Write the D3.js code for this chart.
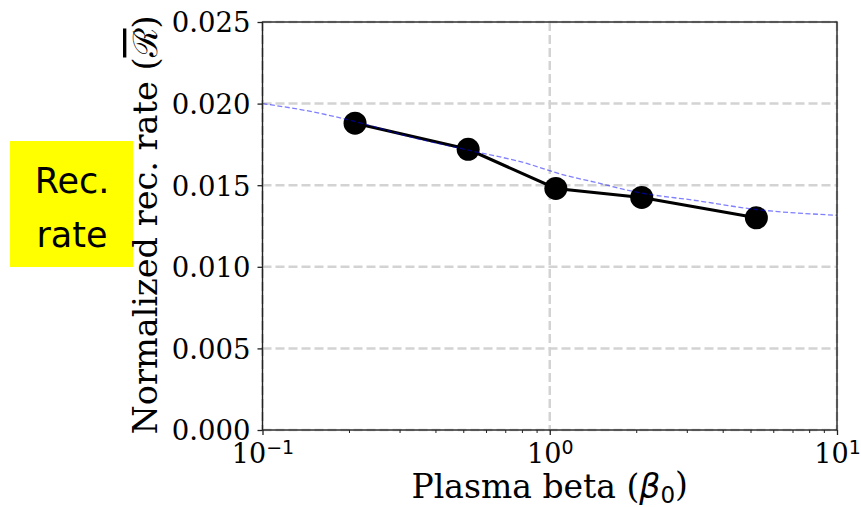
<!DOCTYPE html>
<html>
<head>
<meta charset="utf-8">
<script src="https://cdn.jsdelivr.net/npm/d3@7"></script>
<style>
  body { margin: 0; background: #fff; }
  text { fill: #000; }
</style>
</head>
<body>
<script>
// measured points (plasma beta vs normalized reconnection rate)
var betaValues = [0.21, 0.52, 1.05, 2.09, 5.24];
var rateValues = [0.0188, 0.0172, 0.0148, 0.01425, 0.0130];

// blue dashed reference curve
var curveBeta = [0.1, 0.149, 0.219, 0.327, 0.52, 0.833, 1.088, 1.421, 2.067, 3.17, 5.24, 10];
var curveRate = [0.0200, 0.01950, 0.01882, 0.01796, 0.01715, 0.01633, 0.01569, 0.01520, 0.01453, 0.01408, 0.01351, 0.01316];

var yTicks = [0, 0.005, 0.010, 0.015, 0.020, 0.025];
var xMajor = [0.1, 1, 10];
var xExponents = ["\u22121", "0", "1"];
var xMinor = [0.2, 0.3, 0.4, 0.5, 0.6, 0.7, 0.8, 0.9, 2, 3, 4, 5, 6, 7, 8, 9];

var margin = {top: 22, right: 24, bottom: 77, left: 262.5};
var width = 861 - margin.left - margin.right;
var height = 507 - margin.top - margin.bottom;

var svg = d3.select("body").append("svg")
    .attr("width", 861)
    .attr("height", 507);

// yellow note box
svg.append("rect")
    .attr("x", 10).attr("y", 141)
    .attr("width", 123).attr("height", 126)
    .attr("fill", "#ffff00");

svg.selectAll(".note")
    .data(["Rec.", "rate"])
    .enter().append("text")
    .attr("class", "note")
    .attr("x", 72)
    .attr("y", function(d, i) { return 193 + i * 54; })
    .attr("text-anchor", "middle")
    .style("font-family", "'Comic Sans MS', 'DejaVu Sans', sans-serif")
    .style("font-size", "35px")
    .text(function(d) { return d; });

var g = svg.append("g")
    .attr("transform", "translate(" + margin.left + "," + margin.top + ")");

var x = d3.scaleLog().domain([0.1, 10]).range([0, width]);
var y = d3.scaleLinear().domain([0, 0.025]).range([height, 0]);

// grid
g.selectAll(".hgrid")
    .data(yTicks)
    .enter().append("line")
    .attr("x1", 0).attr("x2", width)
    .attr("y1", function(d) { return y(d); })
    .attr("y2", function(d) { return y(d); })
    .attr("stroke", "#d3d3d3")
    .attr("stroke-width", 2.5)
    .attr("stroke-dasharray", "9,4");

g.selectAll(".vgrid")
    .data(xMajor)
    .enter().append("line")
    .attr("y1", 0).attr("y2", height)
    .attr("x1", function(d) { return x(d); })
    .attr("x2", function(d) { return x(d); })
    .attr("stroke", "#d3d3d3")
    .attr("stroke-width", 2.5)
    .attr("stroke-dasharray", "9,4");

// data line and markers
var pts = betaValues.map(function(b, i) { return [b, rateValues[i]]; });
var line = d3.line()
    .x(function(d) { return x(d[0]); })
    .y(function(d) { return y(d[1]); });

g.append("path")
    .datum(pts)
    .attr("d", line)
    .attr("fill", "none")
    .attr("stroke", "#000")
    .attr("stroke-width", 3);

g.selectAll(".dot")
    .data(pts)
    .enter().append("circle")
    .attr("cx", function(d) { return x(d[0]); })
    .attr("cy", function(d) { return y(d[1]); })
    .attr("r", 11.5)
    .attr("fill", "#000");

// blue dashed curve on top
var cpts = curveBeta.map(function(b, i) { return [b, curveRate[i]]; });
g.append("path")
    .datum(cpts)
    .attr("d", line.curve(d3.curveMonotoneX))
    .attr("fill", "none")
    .attr("stroke", "blue")
    .attr("stroke-opacity", 0.5)
    .attr("stroke-width", 1.3)
    .attr("stroke-dasharray", "5,2.5");

// frame
g.append("rect")
    .attr("width", width).attr("height", height)
    .attr("fill", "none")
    .attr("stroke", "#222")
    .attr("stroke-width", 1.4);

// left axis
var yAxis = d3.axisLeft(y).tickValues(yTicks).tickSize(5).tickPadding(7)
    .tickFormat(d3.format(".3f"));
var ya = g.append("g").call(yAxis);
ya.select(".domain").remove();
ya.selectAll("text")
    .style("font-family", "'DejaVu Serif', serif")
    .style("font-size", "27.5px")
    .attr("dy", "0.36em");
ya.selectAll("line").attr("stroke", "#222").attr("stroke-width", 1.3);

// bottom axis, minor then major
var xm = g.append("g")
    .attr("transform", "translate(0," + height + ")")
    .call(d3.axisBottom(x).tickValues(xMinor).tickSize(3).tickFormat(""));
xm.select(".domain").remove();
xm.selectAll("line").attr("stroke", "#222").attr("stroke-width", 1);

var xa = g.append("g")
    .attr("transform", "translate(0," + height + ")")
    .call(d3.axisBottom(x).tickValues(xMajor).tickSize(5).tickFormat(""));
xa.select(".domain").remove();
xa.selectAll("line").attr("stroke", "#222").attr("stroke-width", 1.3);

xa.selectAll(".tick").each(function(d, i) {
  var t = d3.select(this).append("text")
      .attr("y", 33)
      .attr("text-anchor", "middle")
      .style("font-family", "'DejaVu Serif', serif")
      .style("font-size", "27px");
  t.append("tspan").text("10");
  t.append("tspan")
      .attr("dy", "-0.45em")
      .style("font-size", "19px")
      .style("font-family", "'DejaVu Sans', sans-serif")
      .text(xExponents[i]);
});

// axis labels
var xl = g.append("text")
    .attr("x", x(1))
    .attr("y", height + 68)
    .attr("text-anchor", "middle")
    .style("font-family", "'DejaVu Serif', serif")
    .style("font-size", "33px");
xl.append("tspan").text("Plasma beta (");
xl.append("tspan").style("font-family", "'DejaVu Sans', sans-serif").style("font-style", "italic").text("\u03b2");
xl.append("tspan").attr("dy", "0.2em").style("font-family", "'DejaVu Sans', sans-serif").style("font-size", "23px").text("0");
xl.append("tspan").attr("dy", "-0.2em").text(")");

var yl = svg.append("text")
    .attr("transform", "translate(157,225) rotate(-90)")
    .attr("text-anchor", "middle")
    .style("font-family", "'DejaVu Serif', serif")
    .style("font-size", "33.5px");
yl.append("tspan").text("Normalized rec. rate (");
yl.append("tspan").style("text-decoration", "overline").text("\u211B");
yl.append("tspan").text(")");
</script>
</body>
</html>
